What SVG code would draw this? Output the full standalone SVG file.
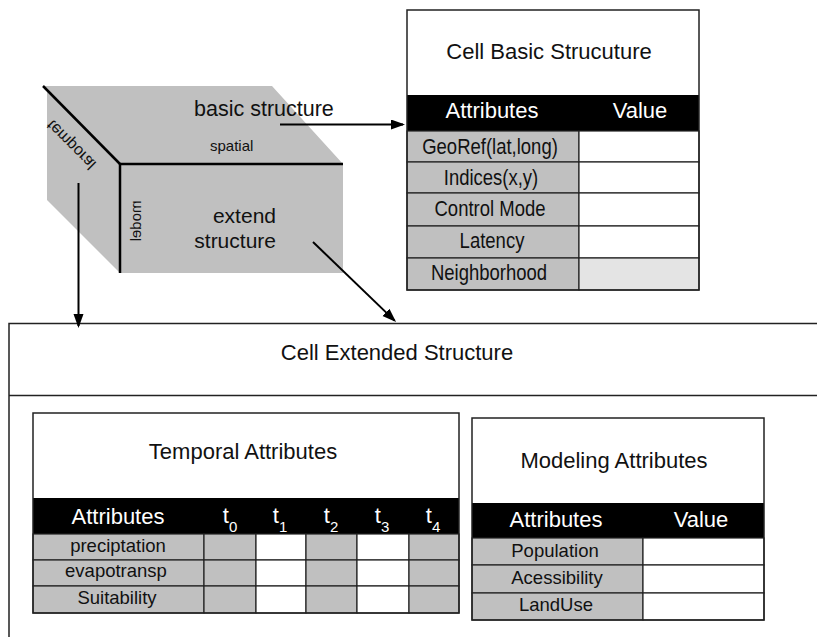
<svg xmlns="http://www.w3.org/2000/svg" width="817" height="637" viewBox="0 0 817 637">
  <style>
    text { font-family: "Liberation Sans", Arial, sans-serif; fill: #111; }
    .mid { text-anchor: middle; }
    .title { font-size: 22px; }
    .head { font-size: 22px; fill: #fff; text-anchor: middle; }
    .row { font-size: 18.5px; text-anchor: middle; }
    .cell { stroke: #222; stroke-width: 1.2; }
    .gray { fill: #c0c0c0; }
    .white { fill: #fff; }
    .light { fill: #e4e4e4; }
    .band { fill: #000; }
    .frame { fill: none; stroke: #222; stroke-width: 1.5; }
    .edge { stroke: #000; stroke-width: 2.5; fill: none; }
    .face { fill: #c0c0c0; }
    .conn { stroke: #000; stroke-width: 2; fill: none; marker-end: url(#arrow); }
  </style>
  <defs>
    <marker id="arrow" markerUnits="userSpaceOnUse" markerWidth="16" markerHeight="12" refX="12" refY="5" orient="auto">
      <path d="M0,0 L14,5 L0,10 z" fill="#000"/>
    </marker>
  </defs>

  <rect width="817" height="637" fill="#fff"/>

  <!-- the cell cube -->
  <g id="cube">
    <polygon class="face" points="43,86 272,86 343,164 343,273 120,273 47,200 47,90"/>
    <line class="edge" x1="43" y1="86" x2="120" y2="164"/>
    <line class="edge" x1="120" y1="164" x2="343" y2="164" stroke-width="2"/>
    <line class="edge" x1="120" y1="164" x2="120" y2="273"/>
    <text x="194" y="116" font-size="21.5">basic structure</text>
    <text x="210" y="151" font-size="15">spatial</text>
    <text x="276" y="223" font-size="21" text-anchor="end">extend</text>
    <text x="276" y="248" font-size="21" text-anchor="end">structure</text>
    <text class="mid" font-size="16" transform="translate(75 141) rotate(45) scale(1 -1)">temporal</text>
    <text class="mid" font-size="15" transform="translate(141 221) rotate(90) scale(1 -1)">model</text>
  </g>

  <!-- basic structure table -->
  <g id="table-basic">
    <rect class="white" x="407" y="10" width="292" height="85"/>
    <rect class="band" x="407" y="95" width="292" height="36"/>
    <rect class="gray cell" x="407" y="131" width="172" height="31"/>
    <rect class="gray cell" x="407" y="162" width="172" height="31"/>
    <rect class="gray cell" x="407" y="193" width="172" height="33"/>
    <rect class="gray cell" x="407" y="226" width="172" height="32"/>
    <rect class="gray cell" x="407" y="258" width="172" height="32"/>
    <rect class="white cell" x="579" y="131" width="120" height="31"/>
    <rect class="white cell" x="579" y="162" width="120" height="31"/>
    <rect class="white cell" x="579" y="193" width="120" height="33"/>
    <rect class="white cell" x="579" y="226" width="120" height="32"/>
    <rect class="light cell" x="579" y="258" width="120" height="32"/>
    <rect class="frame" x="407" y="10" width="292" height="280"/>
    <text class="title mid" x="549" y="59">Cell Basic Strucuture</text>
    <text class="head" x="492" y="118">Attributes</text>
    <text class="head" x="640" y="118">Value</text>
    <text class="row" font-size="18" transform="translate(490 154) scale(1 1.15)">GeoRef(lat,long)</text>
    <text class="row" font-size="18" transform="translate(491 185) scale(1 1.15)">Indices(x,y)</text>
    <text class="row" font-size="18" transform="translate(490 216) scale(1 1.15)">Control Mode</text>
    <text class="row" font-size="18" transform="translate(492 248) scale(1 1.15)">Latency</text>
    <text class="row" font-size="18" transform="translate(489 280) scale(1 1.15)">Neighborhood</text>
  </g>

  <!-- extended structure container -->
  <g id="box-extended">
    <path class="frame" d="M817,323.5 H9 V637 M9,395.5 H817"/>
    <text class="title mid" x="397" y="360">Cell Extended Structure</text>
  </g>

  <!-- temporal attributes table -->
  <g id="table-temporal">
    <rect class="white" x="33" y="413" width="426" height="85"/>
    <rect class="band" x="33" y="498" width="426" height="36"/>
    <g class="cell">
      <rect class="gray" x="33" y="534" width="171" height="26"/>
      <rect class="gray" x="33" y="560" width="171" height="26"/>
      <rect class="gray" x="33" y="586" width="171" height="27"/>
      <rect class="gray" x="204" y="534" width="52" height="26"/>
      <rect class="gray" x="204" y="560" width="52" height="26"/>
      <rect class="gray" x="204" y="586" width="52" height="27"/>
      <rect class="white" x="256" y="534" width="50" height="26"/>
      <rect class="white" x="256" y="560" width="50" height="26"/>
      <rect class="white" x="256" y="586" width="50" height="27"/>
      <rect class="gray" x="306" y="534" width="51" height="26"/>
      <rect class="gray" x="306" y="560" width="51" height="26"/>
      <rect class="gray" x="306" y="586" width="51" height="27"/>
      <rect class="white" x="357" y="534" width="52" height="26"/>
      <rect class="white" x="357" y="560" width="52" height="26"/>
      <rect class="white" x="357" y="586" width="52" height="27"/>
      <rect class="gray" x="409" y="534" width="50" height="26"/>
      <rect class="gray" x="409" y="560" width="50" height="26"/>
      <rect class="gray" x="409" y="586" width="50" height="27"/>
    </g>
    <rect class="frame" x="33" y="413" width="426" height="200"/>
    <text class="title mid" x="243" y="459">Temporal Attributes</text>
    <text class="head" x="118" y="524" font-size="21">Attributes</text>
    <text class="head" x="230" y="523">t<tspan dy="9" font-size="15">0</tspan></text>
    <text class="head" x="280" y="523">t<tspan dy="9" font-size="15">1</tspan></text>
    <text class="head" x="331" y="523">t<tspan dy="9" font-size="15">2</tspan></text>
    <text class="head" x="382" y="523">t<tspan dy="9" font-size="15">3</tspan></text>
    <text class="head" x="433" y="523">t<tspan dy="9" font-size="15">4</tspan></text>
    <text class="row" x="118" y="552">preciptation</text>
    <text class="row" x="116" y="577">evapotransp</text>
    <text class="row" x="117" y="604">Suitability</text>
  </g>

  <!-- modeling attributes table -->
  <g id="table-modeling">
    <rect class="white" x="472" y="418" width="292" height="85"/>
    <rect class="band" x="472" y="503" width="292" height="35"/>
    <g class="cell">
      <rect class="gray" x="472" y="538" width="171" height="27"/>
      <rect class="gray" x="472" y="565" width="171" height="28"/>
      <rect class="gray" x="472" y="593" width="171" height="27"/>
      <rect class="white" x="643" y="538" width="121" height="27"/>
      <rect class="white" x="643" y="565" width="121" height="28"/>
      <rect class="white" x="643" y="593" width="121" height="27"/>
    </g>
    <rect class="frame" x="472" y="418" width="292" height="202"/>
    <text class="title mid" x="614" y="468">Modeling Attributes</text>
    <text class="head" x="556" y="527">Attributes</text>
    <text class="head" x="701" y="527">Value</text>
    <text class="row" x="555" y="557">Population</text>
    <text class="row" x="557" y="584">Acessibility</text>
    <text class="row" x="556" y="611">LandUse</text>
  </g>

  <!-- connectors -->
  <g id="connectors">
    <line class="conn" x1="280" y1="124.5" x2="403" y2="124.5"/>
    <line class="conn" x1="78.5" y1="183" x2="78.5" y2="326"/>
    <line class="conn" x1="313" y1="242" x2="394.6" y2="320.6"/>
  </g>
</svg>
